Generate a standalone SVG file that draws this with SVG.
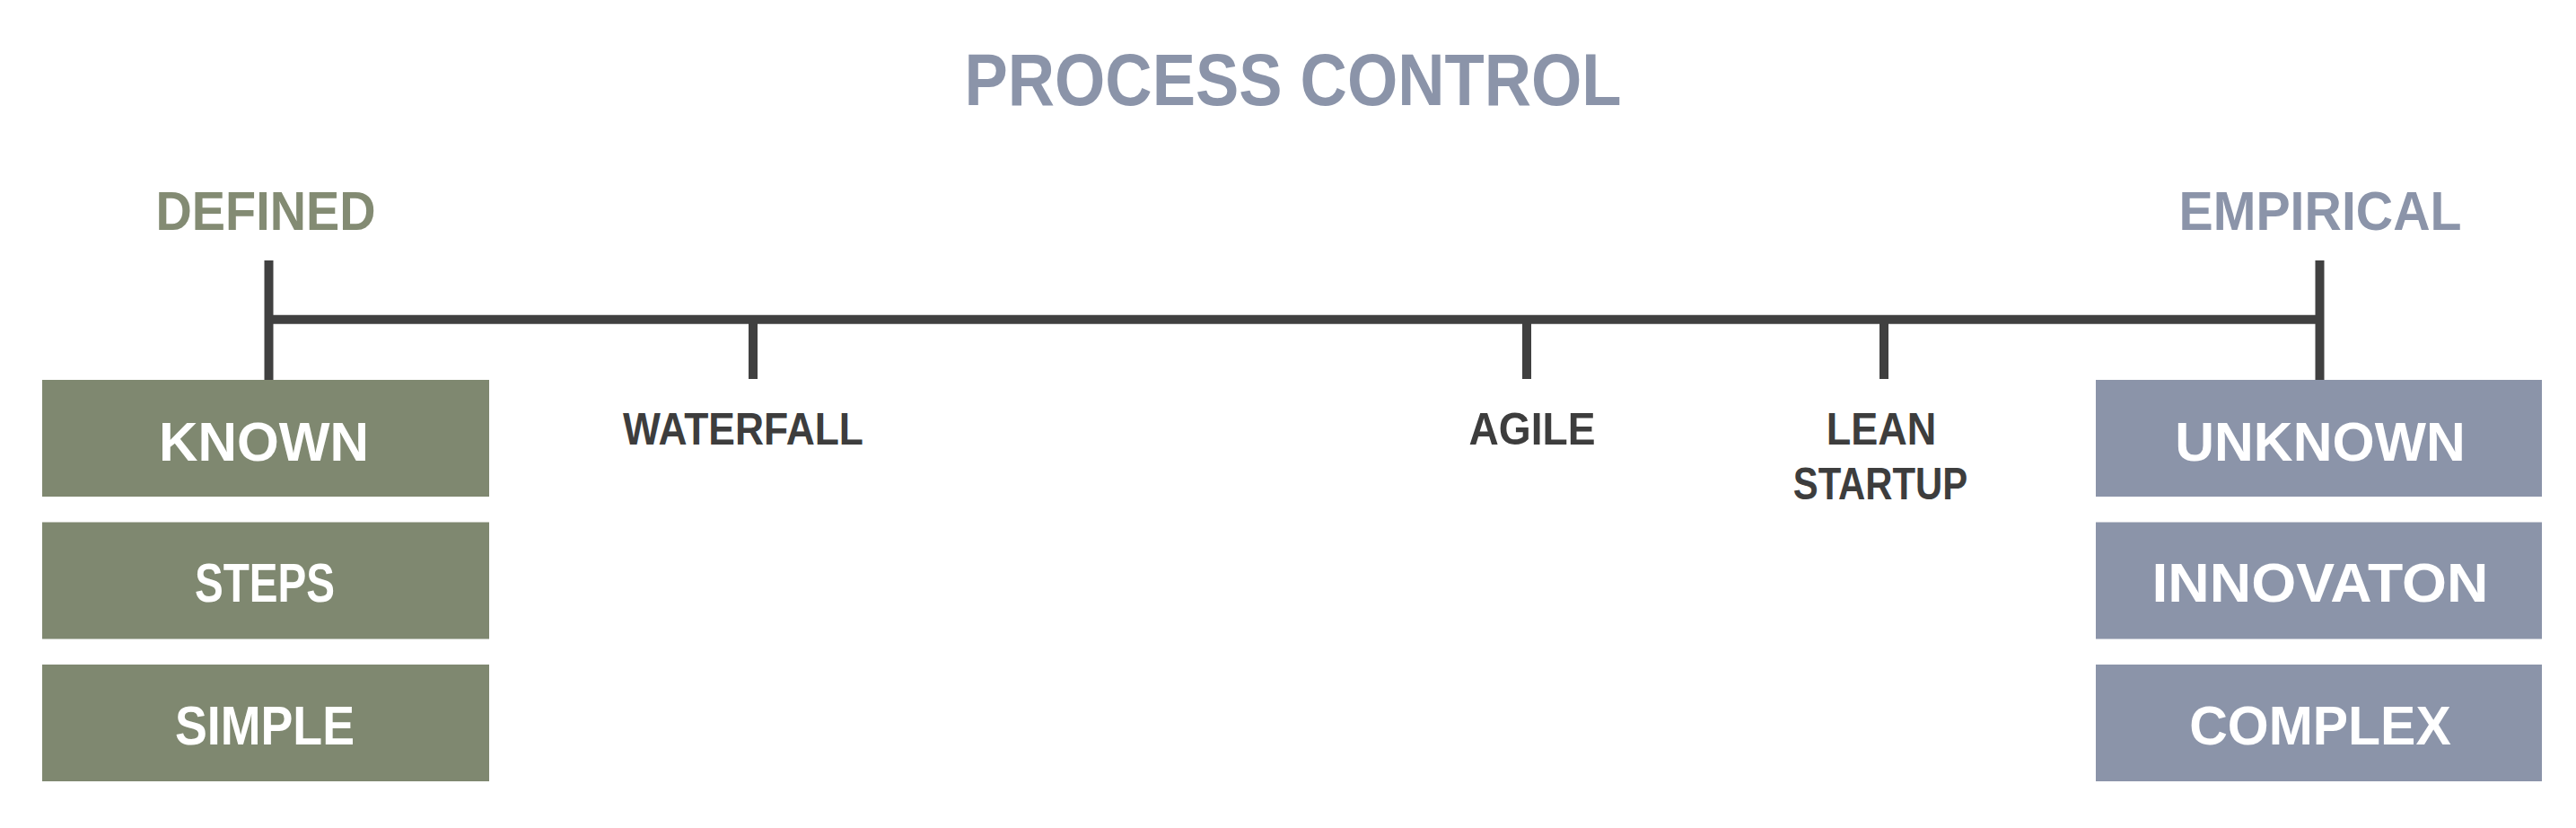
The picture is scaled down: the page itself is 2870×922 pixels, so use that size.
<svg xmlns="http://www.w3.org/2000/svg" width="2870" height="922" viewBox="0 0 2870 922">
<style>
text{font-family:"Liberation Sans",Arial,sans-serif;font-weight:bold;text-anchor:middle}
.title{font-size:81px;fill:#8b94a9}
.head{font-size:61px}
.g{fill:#838b73}
.b{fill:#8b94a9}
.lbl{font-size:50px;fill:#3d3d3d}
.box-g{fill:#7f8870}
.box-b{fill:#8b94a9}
.bt{font-size:61px;fill:#ffffff}
.ln{stroke:#404040;stroke-width:10;fill:none}
</style>
<rect width="2870" height="922" fill="#ffffff"/>
<g id="title"><text class="title" x="1440.5" y="117" textLength="732" lengthAdjust="spacingAndGlyphs">PROCESS CONTROL</text></g>
<g id="connectors">
<line class="ln" x1="299.5" y1="290" x2="299.5" y2="423"/>
<line class="ln" x1="2584.5" y1="290" x2="2584.5" y2="423"/>
<line class="ln" x1="299.5" y1="355.7" x2="2584.5" y2="355.7"/>
<line class="ln" x1="839" y1="355.7" x2="839" y2="422"/>
<line class="ln" x1="1701" y1="355.7" x2="1701" y2="422"/>
<line class="ln" x1="2099" y1="355.7" x2="2099" y2="422"/>
</g>
<g id="defined"><text class="head g" x="296" y="256" textLength="245" lengthAdjust="spacingAndGlyphs">DEFINED</text></g>
<g id="empirical"><text class="head b" x="2585" y="256" textLength="315" lengthAdjust="spacingAndGlyphs">EMPIRICAL</text></g>
<g id="waterfall"><text class="lbl" x="828" y="495" textLength="268" lengthAdjust="spacingAndGlyphs">WATERFALL</text></g>
<g id="agile"><text class="lbl" x="1707" y="495" textLength="141" lengthAdjust="spacingAndGlyphs">AGILE</text></g>
<g id="lean-startup">
<text class="lbl" x="2096" y="495" textLength="122.5" lengthAdjust="spacingAndGlyphs">LEAN</text>
<text class="lbl" x="2095" y="556" textLength="194.5" lengthAdjust="spacingAndGlyphs">STARTUP</text>
</g>
<g id="known"><rect class="box-g" x="47" y="423" width="498" height="130"/><text class="bt" x="294" y="513" textLength="234" lengthAdjust="spacingAndGlyphs">KNOWN</text></g>
<g id="steps"><rect class="box-g" x="47" y="581.5" width="498" height="130"/><text class="bt" x="295" y="670" textLength="156" lengthAdjust="spacingAndGlyphs">STEPS</text></g>
<g id="simple"><rect class="box-g" x="47" y="740" width="498" height="130"/><text class="bt" x="295" y="829" textLength="200" lengthAdjust="spacingAndGlyphs">SIMPLE</text></g>
<g id="unknown"><rect class="box-b" x="2335" y="423" width="497" height="130"/><text class="bt" x="2585" y="513" textLength="323.5" lengthAdjust="spacingAndGlyphs">UNKNOWN</text></g>
<g id="innovaton"><rect class="box-b" x="2335" y="581.5" width="497" height="130"/><text class="bt" x="2585" y="670" textLength="375" lengthAdjust="spacingAndGlyphs">INNOVATON</text></g>
<g id="complex"><rect class="box-b" x="2335" y="740" width="497" height="130"/><text class="bt" x="2585" y="829" textLength="291.5" lengthAdjust="spacingAndGlyphs">COMPLEX</text></g>
</svg>
